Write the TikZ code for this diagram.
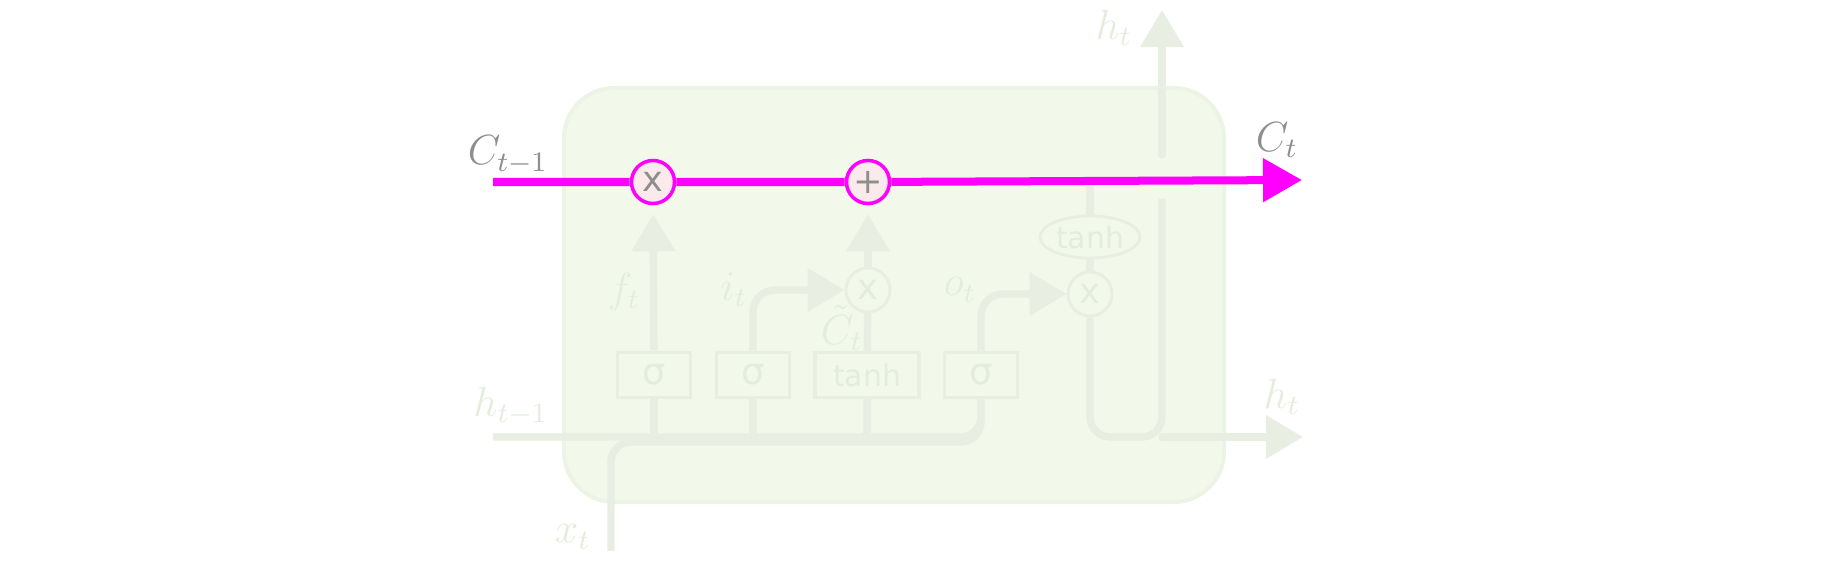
\documentclass[tikz,border=0pt]{standalone}
\usepackage{fontspec}
\usetikzlibrary{arrows.meta,shapes.geometric}
\newfontfamily\opfont{DejaVu Sans}
\definecolor{cellfill}{HTML}{F2F9EB}
\definecolor{celledge}{HTML}{ECF4E5}
\definecolor{wirec}{HTML}{E8EFE2}
\definecolor{labc}{HTML}{E4EDDC}
\definecolor{statec}{HTML}{FF00FF}
\definecolor{pinkc}{HTML}{FBEAEC}
\definecolor{greyc}{HTML}{8E8E8E}
\begin{document}
\begin{tikzpicture}[x=0.01cm,y=-0.01cm,
    wire/.style={draw=wirec,line width=2.1pt},
    arr/.style={-{Triangle[length=0.37cm,width=0.42cm]}},
    gate/.style={draw=wirec,line width=1pt,minimum height=0.45cm,inner sep=0pt,text=labc},
    sig/.style={gate,minimum width=0.73cm,font=\opfont\fontsize{10.5}{10}\selectfont},
    tanhbox/.style={gate,minimum width=1.04cm,font=\opfont\fontsize{8.5}{9}\selectfont},
    opstate/.style={circle,draw=statec,line width=1pt,fill=pinkc,minimum size=0.43cm,inner sep=0pt,text=greyc,font=\opfont\fontsize{10}{10}\selectfont},
    opgate/.style={circle,draw=wirec,line width=0.8pt,minimum size=0.44cm,inner sep=0pt,text=labc,font=\opfont\fontsize{10}{10}\selectfont},
    lbl/.style={text=labc,font=\fontsize{11.5}{12}\selectfont},
    statelbl/.style={text=greyc,font=\fontsize{11.5}{12}\selectfont}]
    \useasboundingbox (0,0) rectangle (1826,564);
    % cell
    \draw[fill=cellfill,draw=celledge,line width=0.04cm,rounded corners=0.5cm] (564,88) rectangle (1224,502);
    % gates
    \node[sig] (sigf) at (654,375) {σ};
    \node[sig] (sigi) at (753,375) {σ};
    \node[tanhbox] (tanhg) at (867,375) {tanh};
    \node[sig] (sigo) at (981,375) {σ};
    % pointwise ops
    \node[opstate] (mulf) at (653,182) {x};
    \node[opstate] (add) at (868,182) {+};
    \node[opgate] (muli) at (868,290) {x};
    \node[opgate] (mulo) at (1090,294) {x};
    \node[ellipse,draw=wirec,line width=0.8pt,minimum width=1.0cm,minimum height=0.42cm,inner sep=0pt,text=labc,font=\opfont\fontsize{8.5}{9}\selectfont] (tanhc) at (1090,237) {tanh};
    % ends
    \coordinate (cin) at (493,182);
    \coordinate (cout) at (1302,180);
    \coordinate (hin) at (493,437);
    \coordinate (hout) at (1303,437);
    \coordinate (xin) at (611,551);
    \coordinate (hsplit) at (1162,437);
    \coordinate (hlow) at (1162,199);
    \coordinate (hhigh) at (1162,155);
    \coordinate (htop) at (1162,10);
    % wires
    \draw[wire,rounded corners=0.2cm] (hin) -| (sigo);
    \draw[wire,rounded corners=0.2cm] (xin) -- ++(0,-109) -| (sigo);
    \draw[wire] (sigf) -- (sigf |- hin);
    \draw[wire] (sigi) -- (sigi |- hin);
    \draw[wire] (tanhg) -- (tanhg |- hin);
    \draw[wire,arr,shorten >=0.09cm] (sigf) -- (mulf);
    \draw[wire,arr,rounded corners=0.22cm] (sigi) |- (muli);
    \draw[wire] (tanhg) -- (muli);
    \draw[wire,arr,shorten >=0.09cm] (muli) -- (add);
    \draw[wire,arr,rounded corners=0.22cm] (sigo) |- (mulo);
    \draw[wire] (tanhc) -- (tanhc |- add);
    \draw[wire] (tanhc) -- (mulo);
    \draw[wire,rounded corners=0.2cm] (mulo) |- (hsplit) -- (hlow);
    \draw[wire,arr,line cap=round] (hsplit) -- (hout);
    \draw[wire,arr,line cap=round] (hhigh) -- (htop);
    % cell state
    \draw[draw=statec,line width=0.08cm,-{Triangle[length=0.39cm,width=0.42cm]}] (cin) -- (mulf) -- (add) -- (cout);
    % labels
    \node[statelbl] (lcin) at (508,155) {$C_{t-1}$};
    \node[statelbl] (lcout) at (1277,140) {$C_t$};
    \node[lbl] (lhin) at (511,406) {$h_{t-1}$};
    \node[lbl] (lxin) at (573,537) {$x_t$};
    \node[lbl] (lhout) at (1282,397) {$h_t$};
    \node[lbl] (lhtop) at (1114,28) {$h_t$};
    \node[lbl] (lf) at (624,292) {$f_t$};
    \node[lbl] (li) at (734,290) {$i_t$};
    \node[lbl] (lct) at (842,328) {$\tilde{C}_t$};
    \node[lbl] (lo) at (960,290) {$o_t$};
\end{tikzpicture}
\end{document}
